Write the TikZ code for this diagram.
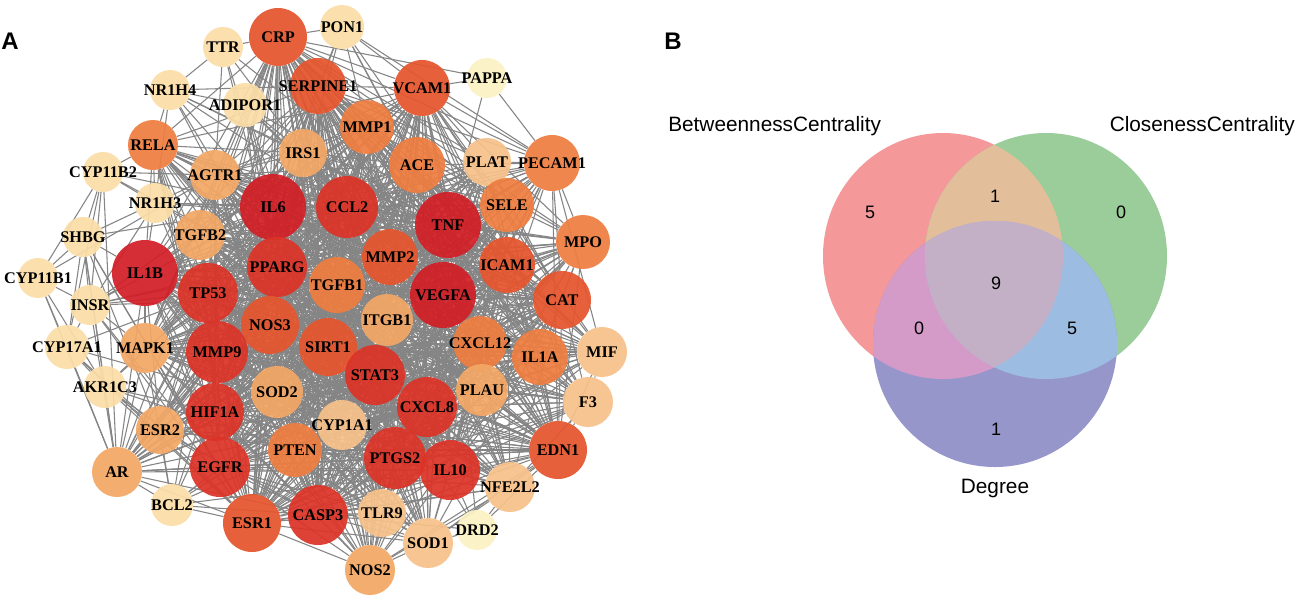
\documentclass[tikz,border=0pt]{standalone}
\usepackage{fontspec}
\setmainfont{Liberation Serif}
\newfontfamily\vsans{Liberation Sans}
\usetikzlibrary{backgrounds}
\definecolor{c1}{HTML}{D21F27}
\definecolor{c2}{HTML}{DC3327}
\definecolor{c3}{HTML}{E5552D}
\definecolor{c4}{HTML}{EE7D40}
\definecolor{c5}{HTML}{F3A765}
\definecolor{c5b}{HTML}{F7C18A}
\definecolor{c6}{HTML}{FBDDA6}
\definecolor{c7}{HTML}{FCF2C4}
\definecolor{edgegray}{HTML}{858585}
\definecolor{vR}{HTML}{F4989A}
\definecolor{vG}{HTML}{9BCD9B}
\definecolor{vB}{HTML}{9696CB}
\definecolor{vRG}{HTML}{E2BE9A}
\definecolor{vRB}{HTML}{D59BC8}
\definecolor{vGB}{HTML}{9CBDE1}
\definecolor{vRGB}{HTML}{C4B0C6}
\tikzset{
  gnode/.style={circle, draw=none, inner sep=0pt, fill opacity=0.93},
  glabel/.style={font=\fontsize{12.2}{12}\selectfont\bfseries, text=black, inner sep=0pt},
  edge/.style={draw=edgegray, line width=0.8pt},
  vlabel/.style={font=\vsans\fontsize{15.6}{16}\selectfont, inner sep=0pt},
  vnum/.style={font=\vsans\fontsize{13.5}{14}\selectfont, inner sep=0pt},
  panel/.style={font=\vsans\bfseries\fontsize{18}{18}\selectfont, inner sep=0pt}
}
\def\nodelist{CRP/278/37/29/c3, PON1/342/27/22/c6, TTR/223/47/20/c6, PAPPA/487/78/20/c7, NR1H4/170/90/20/c6, ADIPOR1/245/105/22/c6, SERPINE1/318/86/28/c3, VCAM1/422/88/28/c3, MMP1/367/127/27/c4, RELA/153/145/25/c4, IRS1/303/153/24/c5, ACE/417/165/28/c4, PLAT/487/162/24/c5b, PECAM1/552/163/28/c4, CYP11B2/103/172/20/c6, AGTR1/215/175/25/c5, NR1H3/155/203/20/c6, IL6/273/207/33/c1, CCL2/347/207/31/c2, TNF/448/225/33/c1, SELE/507/205/27/c4, SHBG/83/237/20/c6, TGFB2/200/235/25/c5, MPO/583/242/27/c4, MMP2/390/257/28/c3, PPARG/277/267/30/c2, ICAM1/507/265/28/c3, IL1B/145/273/33/c1, CYP11B1/38/278/20/c6, TGFB1/337/285/28/c4, TP53/208/293/30/c2, VEGFA/443/295/33/c1, CAT/562/300/29/c3, INSR/90/305/20/c6, ITGB1/387/320/26/c5, NOS3/270/325/29/c3, SIRT1/328/347/29/c3, CXCL12/480/343/27/c4, CYP17A1/67/347/22/c6, MAPK1/145/348/25/c5, MMP9/217/352/31/c2, MIF/602/352/25/c5b, IL1A/540/357/28/c4, STAT3/375/375/30/c2, AKR1C3/105/387/21/c6, PLAU/482/390/26/c5, SOD2/277/392/26/c5, F3/588/402/25/c5b, CXCL8/427/407/30/c2, HIF1A/215/412/29/c2, CYP1A1/342/425/25/c5b, ESR2/160/430/24/c5, EDN1/558/450/29/c3, PTEN/295/450/27/c4, PTGS2/395/458/31/c2, EGFR/220/467/30/c2, IL10/450/470/30/c2, AR/117/472/25/c5, NFE2L2/510/487/25/c5b, BCL2/172/505/21/c6, TLR9/382/513/24/c5b, CASP3/318/515/30/c2, ESR1/252/523/29/c3, DRD2/477/530/20/c7, SOD1/428/543/25/c5b, NOS2/370/570/25/c5}
\def\hubs{IL6, IL1B, TNF, VEGFA, CCL2, TP53, MMP9, HIF1A, EGFR, STAT3, CXCL8, PTGS2, IL10, CASP3, PPARG, NOS3, SIRT1, ESR1, CRP, SERPINE1, VCAM1, MMP2, ICAM1, EDN1, CAT}
\def\mids{RELA, MMP1, ACE, PECAM1, SELE, MPO, TGFB1, CXCL12, IL1A, PTEN, IRS1, AGTR1, TGFB2, MAPK1, SOD2, ITGB1, PLAU, CYP1A1, ESR2, F3, MIF, NFE2L2, AR, TLR9, SOD1, NOS2, PLAT}
\def\inner{TGFB1, CXCL12, IL1A, PTEN, SOD2, ITGB1, PLAU, CYP1A1, MMP1, ACE, SELE, IRS1, AGTR1, TGFB2, MAPK1}
\def\extra{PON1/CRP, PON1/SERPINE1, PON1/VCAM1, PON1/MMP1, PON1/ACE, PON1/IL6, PON1/TNF, PON1/PECAM1, PON1/PPARG, PON1/ICAM1,
TTR/CRP, TTR/NR1H4, TTR/IL6, TTR/IRS1, TTR/TNF, TTR/PPARG, TTR/AGTR1,
PAPPA/CRP, PAPPA/PECAM1, PAPPA/TNF, PAPPA/VCAM1,
NR1H4/RELA, NR1H4/NR1H3, NR1H4/IL6, NR1H4/PPARG, NR1H4/TNF, NR1H4/CCL2, NR1H4/ADIPOR1, NR1H4/IRS1, NR1H4/SERPINE1, NR1H4/AGTR1,
ADIPOR1/IL6, ADIPOR1/TNF, ADIPOR1/PPARG, ADIPOR1/CRP, ADIPOR1/IRS1, ADIPOR1/SIRT1, ADIPOR1/VEGFA, ADIPOR1/NOS3, ADIPOR1/CCL2, ADIPOR1/MAPK1,
CYP11B2/SHBG, CYP11B2/CYP11B1, CYP11B2/AGTR1, CYP11B2/NR1H3, CYP11B2/AR, CYP11B2/RELA, CYP11B2/CYP17A1, CYP11B2/INSR, CYP11B2/IL6, CYP11B2/PPARG,
NR1H3/RELA, NR1H3/IL6, NR1H3/PPARG, NR1H3/TNF, NR1H3/IL1B, NR1H3/CCL2, NR1H3/SHBG, NR1H3/TP53, NR1H3/MMP9, NR1H3/AGTR1, NR1H3/INSR,
SHBG/CYP11B1, SHBG/INSR, SHBG/AR, SHBG/ESR1, SHBG/ESR2, SHBG/IL6, SHBG/CYP17A1, SHBG/AKR1C3, SHBG/IL1B, SHBG/EGFR,
CYP11B1/CYP17A1, CYP11B1/AR, CYP11B1/INSR, CYP11B1/AGTR1, CYP11B1/AKR1C3,
INSR/MAPK1, INSR/IRS1, INSR/IL6, INSR/TNF, INSR/PPARG, INSR/TP53, INSR/EGFR, INSR/CYP17A1, INSR/AR, INSR/ESR1, INSR/IL1B, INSR/VEGFA,
CYP17A1/AR, CYP17A1/AKR1C3, CYP17A1/ESR1, CYP17A1/ESR2, CYP17A1/CYP1A1, CYP17A1/TP53,
AKR1C3/AR, AKR1C3/ESR1, AKR1C3/ESR2, AKR1C3/HIF1A, AKR1C3/MAPK1, AKR1C3/EGFR, AKR1C3/TP53, AKR1C3/PTEN,
BCL2/TP53, BCL2/CASP3, BCL2/ESR1, BCL2/EGFR, BCL2/HIF1A, BCL2/AR, BCL2/STAT3, BCL2/IL6, BCL2/MAPK1, BCL2/PTEN, BCL2/ESR2, BCL2/VEGFA, BCL2/IL10,
DRD2/NFE2L2, DRD2/EDN1, DRD2/IL10, DRD2/SOD1, DRD2/TNF, DRD2/IL6, DRD2/CASP3,
MPO/PECAM1, MPO/SELE, MIF/F3, F3/PLAU, MIF/IL1A, MIF/CXCL12, NFE2L2/SOD1, NOS2/SOD1, NOS2/TLR9, AR/ESR2, AR/MAPK1, RELA/AGTR1, RELA/IRS1, PLAT/PECAM1, PLAT/SELE, PLAU/PLAT, TGFB1/TGFB2, MPO/IL1A, F3/NFE2L2, MIF/PECAM1, NOS2/NFE2L2, MPO/CXCL12, F3/IL1A, NFE2L2/PLAU, SOD1/TLR9, PECAM1/SELE, PECAM1/ACE}
\begin{document}
\begin{tikzpicture}[x=0.75pt, y=-0.75pt]
\useasboundingbox (0,0) rectangle (1299,601);
% panel letters
\node[panel] (pA) at (10,41) {A};
\node[panel] (pB) at (673,41) {B};
% network nodes
\foreach \nm/\x/\y/\rr/\cl in \nodelist {
  \node[gnode, fill=\cl, minimum size=2*\rr*0.75pt] (\nm) at (\x,\y) {};
}
\begin{pgfonlayer}{background}
  \fill[white] (0,0) rectangle (1299,601);
  \foreach \a [count=\i] in \hubs {
    \foreach \b [count=\j] in \hubs {
      \ifnum\j>\i\relax \draw[edge] (\a) -- (\b);\fi
    }
  }
  \foreach \a [count=\i] in \inner {
    \foreach \b [count=\j] in \inner {
      \ifnum\j>\i\relax \draw[edge] (\a) -- (\b);\fi
    }
  }
  \foreach \a in \hubs {
    \foreach \b in \mids { \draw[edge] (\a) -- (\b); }
  }
  \foreach \a/\b in \extra { \draw[edge] (\a) -- (\b); }
\end{pgfonlayer}
\foreach \nm/\x/\y/\rr/\cl in \nodelist {
  \node[glabel] (\nm-t) at (\nm.center) {\nm};
}
% Venn diagram
\fill[vR] (943,256) ellipse [x radius=120, y radius=123];
\fill[vG] (1046,256) ellipse [x radius=121, y radius=123];
\fill[vB] (995,344) ellipse [x radius=122, y radius=123];
\begin{scope}
  \clip (943,256) ellipse [x radius=120, y radius=123];
  \fill[vRG] (1046,256) ellipse [x radius=121, y radius=123];
  \fill[vRB] (995,344) ellipse [x radius=122, y radius=123];
\end{scope}
\begin{scope}
  \clip (1046,256) ellipse [x radius=121, y radius=123];
  \fill[vGB] (995,344) ellipse [x radius=122, y radius=123];
\end{scope}
\begin{scope}
  \clip (943,256) ellipse [x radius=120, y radius=123];
  \clip (1046,256) ellipse [x radius=121, y radius=123];
  \fill[vRGB] (995,344) ellipse [x radius=122, y radius=123];
\end{scope}
\node[vlabel, anchor=west] (lbB) at (668,126) {BetweennessCentrality};
\node[vlabel, anchor=east] (lbC) at (1295,126) {ClosenessCentrality};
\node[vlabel] (lbD) at (995,488) {Degree};
\node[vnum] (n5a) at (870,212) {5};
\node[vnum] (n1a) at (995,196) {1};
\node[vnum] (n0a) at (1121,212) {0};
\node[vnum] (n9) at (996,283) {9};
\node[vnum] (n0b) at (919,328) {0};
\node[vnum] (n5b) at (1072,328) {5};
\node[vnum] (n1b) at (996,429) {1};
\end{tikzpicture}
\end{document}
